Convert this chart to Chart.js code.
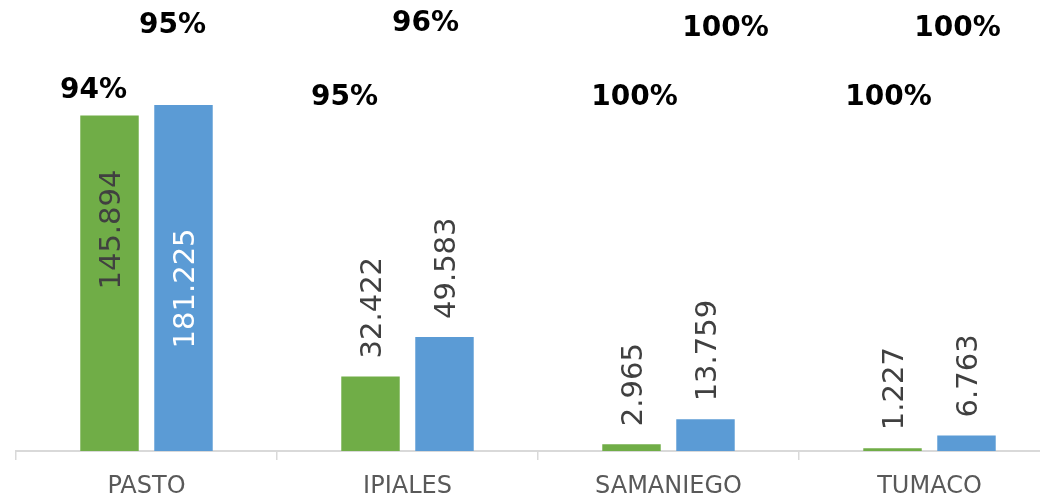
<!DOCTYPE html>
<html>
<head>
<meta charset="utf-8">
<script src="https://cdn.jsdelivr.net/npm/chart.js@4"></script>
<style>
  html, body { margin: 0; padding: 0; background: #ffffff; overflow: hidden; }
  #wrap { width: 1040px; height: 497px; overflow: hidden; }
</style>
</head>
<body>
<div id="wrap"><canvas id="c" width="1070" height="497"></canvas></div>
<script>
// ---- data ----
const categories   = ['PASTO', 'IPIALES', 'SAMANIEGO', 'TUMACO'];
const greenValues  = [145.894, 32.422, 2.965, 1.227];   // bar heights (green series)
const blueValues   = [150.4, 49.583, 13.759, 6.763];    // bar heights (blue series, PASTO bar drawn shorter than its label)
const greenLabels  = ['145.894', '32.422', '2.965', '1.227'];
const blueLabels   = ['181.225', '49.583', '13.759', '6.763'];
const greenPercent = ['94%', '95%', '100%', '100%'];
const bluePercent  = ['95%', '96%', '100%', '100%'];

// ---- label placement (styling, not data) ----
const insideLabel = [true, false, false, false];
const layoutCfg = {
  green: { insideFrac: 0.66, pctDx: [-16, -26, 3, -4], pctDy: [74, 81, 81, 81], insideColor: '#404040' },
  blue:  { insideFrac: 0.47, pctDx: [-11, -19, 20, -9], pctDy: [9, 7, 12, 12],  insideColor: '#ffffff' }
};

const labelPlugin = {
  id: 'customLabels',
  afterDatasetsDraw(chart) {
    const ctx = chart.ctx;
    const area = chart.chartArea;
    chart.data.datasets.forEach((ds, di) => {
      const meta = chart.getDatasetMeta(di);
      const cfg = layoutCfg[ds.key];
      meta.data.forEach((bar, i) => {
        const fs = 29;
        ctx.save();
        ctx.font = fs + 'px "DejaVu Sans", Verdana, sans-serif';
        const capH = fs * 0.729;
        const txt = ds.valueLabels[i];
        const w = ctx.measureText(txt).width;
        let cy, color;
        if (insideLabel[i]) {
          cy = bar.base - (bar.base - bar.y) * cfg.insideFrac;
          color = cfg.insideColor;
        } else {
          cy = bar.y - 18 - w / 2;
          color = '#404040';
        }
        ctx.translate(bar.x + capH / 2, cy);
        ctx.rotate(-Math.PI / 2);
        ctx.fillStyle = color;
        ctx.textAlign = 'center';
        ctx.textBaseline = 'alphabetic';
        ctx.fillText(txt, 0, 0);
        ctx.restore();

        const pfs = 28;
        ctx.save();
        ctx.font = 'bold ' + pfs + 'px "DejaVu Sans", Verdana, sans-serif';
        ctx.fillStyle = '#000000';
        ctx.textAlign = 'center';
        ctx.textBaseline = 'alphabetic';
        ctx.fillText(ds.percentLabels[i], bar.x + cfg.pctDx[i], area.top + cfg.pctDy[i] + pfs * 0.729 / 2);
        ctx.restore();
      });
    });
  }
};

new Chart(document.getElementById('c'), {
  type: 'bar',
  data: {
    labels: categories,
    datasets: [
      { key: 'green', data: greenValues, valueLabels: greenLabels, percentLabels: greenPercent,
        backgroundColor: '#70AD47', barPercentage: 0.79, categoryPercentage: 0.567 },
      { key: 'blue', data: blueValues, valueLabels: blueLabels, percentLabels: bluePercent,
        backgroundColor: '#5B9BD5', barPercentage: 0.79, categoryPercentage: 0.567 }
    ]
  },
  options: {
    responsive: false,
    animation: false,
    layout: { padding: { left: 16, right: 10, top: 14, bottom: 0 } },
    plugins: { legend: { display: false }, tooltip: { enabled: false } },
    scales: {
      x: {
        afterFit(scale) { scale.height = 46; },
        border: { display: true, color: '#d9d9d9', width: 2 },
        grid: { offset: true, drawOnChartArea: false, drawTicks: true, tickLength: 9, color: '#d9d9d9', lineWidth: 1.5 },
        ticks: { color: '#595959', padding: 12, font: { family: '"DejaVu Sans", Verdana, sans-serif', size: 24 } }
      },
      y: { display: false, min: 0, max: 190 }
    }
  },
  plugins: [labelPlugin]
});
</script>
</body>
</html>
